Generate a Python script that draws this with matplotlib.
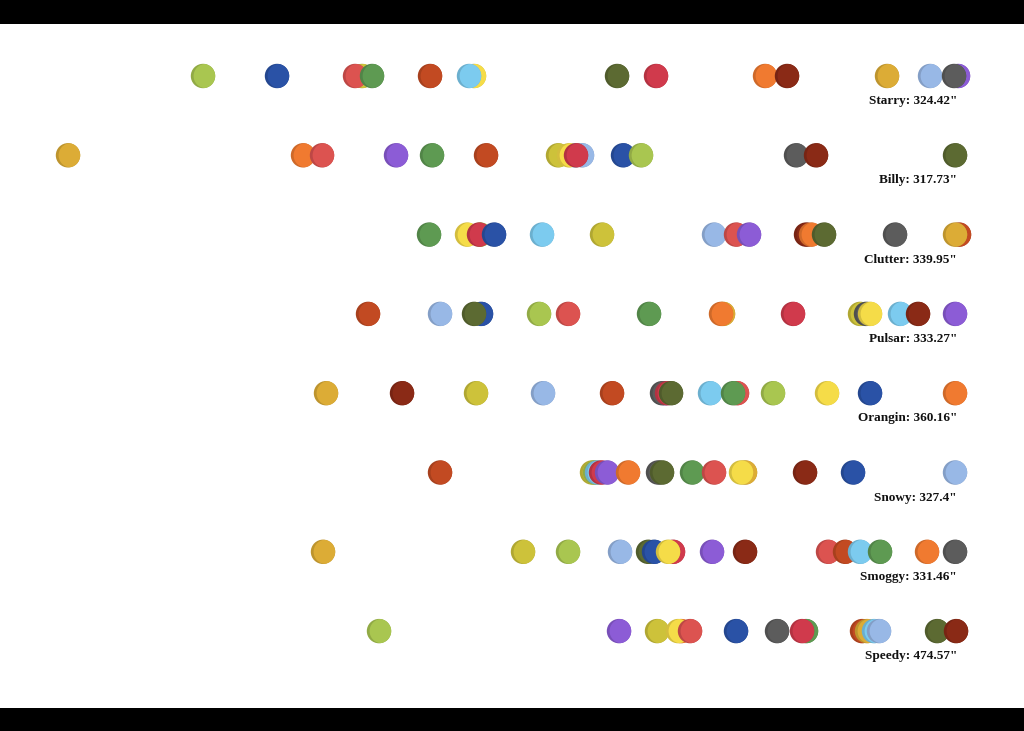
import matplotlib
matplotlib.use("Agg")
import matplotlib.pyplot as plt
from matplotlib.patches import Circle
import matplotlib.colors as mcolors

palette = {
    "lime": "#a9c650", "blue": "#2a52a6", "red": "#dc5350", "green": "#5e9a52",
    "orangered": "#c24a22", "lightblue": "#7ccbef", "olive": "#5c6a32",
    "crimson": "#d03a4c", "orange": "#f07a30", "darkred": "#8a2a16",
    "gold": "#dcac36", "periwinkle": "#98b8e6", "gray": "#5c5c5c",
    "purple": "#8c5cd6", "yellow": "#f5dc48", "mustard": "#cdc23a",
}

winners = ["Starry", "Billy", "Clutter", "Pulsar", "Orangin", "Snowy", "Smoggy", "Speedy"]
times = ["324.42", "317.73", "339.95", "333.27", "360.16", "327.4", "331.46", "474.57"]

# (team, score) per race, listed in drawing order
starry = [("lime", 203), ("blue", 277), ("mustard", 362), ("red", 355), ("green", 372),
          ("orangered", 430), ("yellow", 474), ("lightblue", 469), ("olive", 617),
          ("crimson", 656), ("orange", 765), ("darkred", 787), ("gold", 887),
          ("periwinkle", 930), ("purple", 958), ("gray", 954)]
billy = [("gold", 68), ("orange", 303), ("red", 322), ("purple", 396), ("green", 432),
         ("orangered", 486), ("periwinkle", 582), ("mustard", 558), ("lightblue", 575),
         ("yellow", 569), ("crimson", 576), ("blue", 623), ("lime", 641), ("gray", 796),
         ("darkred", 816), ("olive", 955)]
clutter = [("green", 429), ("yellow", 467), ("lime", 480), ("crimson", 479), ("blue", 494),
           ("lightblue", 542), ("mustard", 602), ("periwinkle", 714), ("red", 736),
           ("purple", 749), ("darkred", 806), ("orange", 811), ("olive", 824), ("gray", 895),
           ("orangered", 959), ("gold", 955)]
pulsar = [("orangered", 368), ("periwinkle", 440), ("blue", 481), ("olive", 474),
          ("lime", 539), ("red", 568), ("green", 649), ("gold", 723), ("orange", 721),
          ("crimson", 793), ("mustard", 860), ("gray", 866), ("yellow", 870),
          ("lightblue", 900), ("darkred", 918), ("purple", 955)]
orangin = [("gold", 326), ("darkred", 402), ("mustard", 476), ("periwinkle", 543),
           ("orangered", 612), ("purple", 665), ("gray", 662), ("crimson", 667),
           ("olive", 671), ("lightblue", 710), ("red", 737), ("green", 733), ("lime", 773),
           ("yellow", 827), ("blue", 870), ("orange", 955)]
snowy = [("orangered", 440), ("mustard", 592), ("lime", 595), ("lightblue", 597),
         ("crimson", 601), ("purple", 607), ("orange", 628),
         ("gray", 658), ("olive", 662), ("green", 692), ("red", 714), ("gold", 745),
         ("yellow", 741), ("darkred", 805), ("blue", 853), ("periwinkle", 955)]
smoggy = [("gold", 323), ("mustard", 523), ("lime", 568), ("periwinkle", 620),
          ("olive", 648), ("blue", 654), ("crimson", 673), ("yellow", 668), ("purple", 712),
          ("darkred", 745), ("red", 828), ("orangered", 845), ("lightblue", 860),
          ("green", 880), ("orange", 927), ("gray", 955)]
speedy = [("lime", 379), ("purple", 619), ("mustard", 657), ("orange", 681),
          ("yellow", 678), ("red", 690), ("blue", 736), ("gray", 777), ("green", 806),
          ("crimson", 802), ("orangered", 862), ("gold", 867), ("lightblue", 874),
          ("periwinkle", 879), ("olive", 937), ("darkred", 956)]

races = [starry, billy, clutter, pulsar, orangin, snowy, smoggy, speedy]

W, H = 1024, 731
fig = plt.figure(figsize=(W / 100, H / 100), dpi=100)
ax = fig.add_axes([0, 0, 1, 1])
ax.set_xlim(0, W)
ax.set_ylim(H, 0)
ax.axis("off")

ax.axhspan(0, 24, color="black", lw=0)
ax.axhspan(708, H, color="black", lw=0)

r = 12.2
row0, step = 76, 79.3


def darker(c, f=0.86):
    rgb = mcolors.to_rgb(c)
    return tuple(v * f for v in rgb)


for i, race in enumerate(races):
    y = row0 + i * step
    for team, x in race:
        col = palette[team]
        base = Circle((x, y), r, facecolor=darker(col), edgecolor="none", zorder=2)
        ax.add_patch(base)
        top = Circle((x + 2.8, y), r, facecolor=col, edgecolor="none", zorder=2)
        ax.add_patch(top)
        top.set_clip_path(base)
    ax.text(957, y + 25, f'{winners[i]}: {times[i]}"', ha="right", va="center",
            fontsize=9.5, fontweight="heavy", family="Liberation Serif", color="#111111")

fig.savefig("out.png", dpi=100)
